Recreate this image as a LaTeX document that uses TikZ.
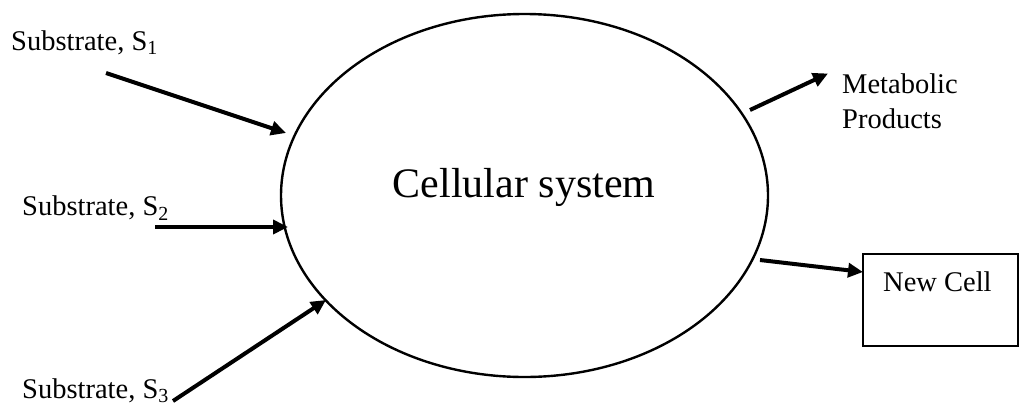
\documentclass[tikz,border=0pt]{standalone}
\usepackage{fontspec}
\setmainfont{Liberation Serif}
\usetikzlibrary{arrows.meta,shapes.geometric}
\tikzset{
  flow/.style={line width=4pt,-{Triangle[length=15pt,width=14pt]}},
  lbl/.style={inner sep=0pt,anchor=base west,font=\fontsize{28.5}{35}\selectfont},
}
\begin{document}
\begin{tikzpicture}[x=1pt,y=-1pt]
\useasboundingbox (0,0) rectangle (1019,402);
\node[draw,ellipse,line width=2.4pt,minimum width=487pt,minimum height=363pt,inner sep=0pt] (cell) at (524.5,195.5) {};
\node[inner sep=0pt,anchor=base,font=\fontsize{42}{50}\selectfont] (celltext) at (524.2,197.7) {Cellular system};
\node[draw,line width=1.5pt,minimum width=155pt,minimum height=92pt,inner sep=0pt,anchor=north west] (newcell) at (862,253) {};
\node[lbl] (newcelltext) at (883,291) {New Cell};
\node[lbl] (s1) at (11,50) {Substrate, S\textsubscript{1}};
\node[lbl] (s2) at (22,215.5) {Substrate, S\textsubscript{2}};
\node[lbl] (s3) at (22,398) {Substrate, S\textsubscript{3}};
\node[lbl,align=left] (met) at (842,128) {Metabolic\\Products};
\coordinate (a1s) at (106,73);  \coordinate (a1e) at (286,133);
\coordinate (a2s) at (155,227); \coordinate (a2e) at (288,227);
\coordinate (a3s) at (173,401); \coordinate (a3e) at (326,300);
\coordinate (m1s) at (750,110); \coordinate (m1e) at (828,73.5);
\coordinate (n1s) at (760,260); \coordinate (n1e) at (863,272);
\draw[flow] (a1s) -- (a1e);
\draw[flow] (a2s) -- (a2e);
\draw[flow] (a3s) -- (a3e);
\draw[flow] (m1s) -- (m1e);
\draw[flow] (n1s) -- (n1e);
\end{tikzpicture}
\end{document}
